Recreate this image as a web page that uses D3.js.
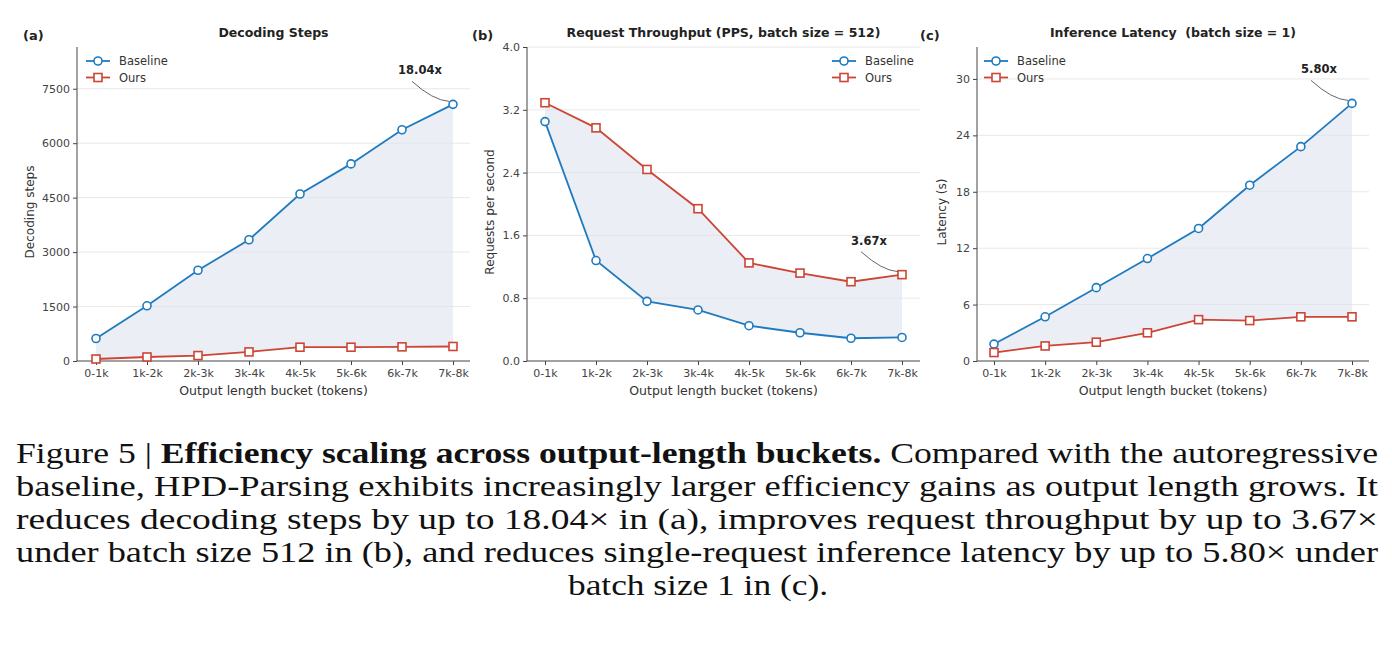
<!DOCTYPE html>
<html><head><meta charset="utf-8">
<script src="https://cdn.jsdelivr.net/npm/d3@7"></script>
<style>body{margin:0;background:#fff}svg{display:block}</style>
</head><body>
<svg id="c" width="1392" height="650"></svg>
<script>
const categories = ["0-1k","1k-2k","2k-3k","3k-4k","4k-5k","5k-6k","6k-7k","7k-8k"];
const stepsBaseline = [620,1520,2500,3340,4600,5430,6370,7070];
const stepsOurs = [55,110,150,250,380,380,390,400];
const thrBaseline = [3.05,1.28,0.76,0.65,0.45,0.36,0.29,0.30];
const thrOurs = [3.29,2.97,2.44,1.94,1.25,1.12,1.01,1.10];
const latBaseline = [1.8,4.7,7.8,10.9,14.1,18.7,22.8,27.4];
const latOurs = [0.9,1.6,2.0,3.0,4.4,4.3,4.7,4.7];
const ticksA = [0,1500,3000,4500,6000,7500];
const ticksB = [0,0.8,1.6,2.4,3.2,4.0];
const ticksC = [0,6,12,18,24,30];

const BLUE="#1f7bbf", RED="#cc4535";
const svg=d3.select("#c");
const F="DejaVu Sans";

const panels=[
 {label:"(a)",lx:23,title:"Decoding Steps",x0:77,x1:470,first:96,last:453,ymax:8650,ticks:ticksA,tf:d=>d,base:stepsBaseline,ours:stepsOurs,ylab:"Decoding steps",ylx:34,legX:86,ann:"18.04x",annOn:"base"},
 {label:"(b)",lx:472,title:"Request Throughput (PPS, batch size = 512)",x0:527,x1:920,first:545,last:902,ymax:4.0,ticks:ticksB,tf:d3.format(".1f"),base:thrBaseline,ours:thrOurs,ylab:"Requests per second",ylx:494,legX:832,ann:"3.67x",annOn:"ours"},
 {label:"(c)",lx:920,title:"Inference Latency\u00a0\u00a0(batch size = 1)",x0:977,x1:1369,first:994,last:1352,ymax:33.4,ticks:ticksC,tf:d=>d,base:latBaseline,ours:latOurs,ylab:"Latency (s)",ylx:946,legX:984,ann:"5.80x",annOn:"base"}
];
const yTop=47,yBot=361;
panels.forEach(p=>{
  const g=svg.append("g");
  const x=d3.scalePoint().domain(categories).range([p.first,p.last]);
  const y=d3.scaleLinear().domain([0,p.ymax]).range([yBot,yTop]);
  g.selectAll(".gr").data(p.ticks.filter(t=>t>0)).join("line")
   .attr("x1",p.x0).attr("x2",p.x1).attr("y1",d=>y(d)).attr("y2",d=>y(d))
   .attr("stroke","#e8e8e8").attr("stroke-width",1);
  const area=d3.area().x((d,i)=>x(categories[i])).y0((d,i)=>y(p.ours[i])).y1(d=>y(d));
  g.append("path").datum(p.base).attr("d",area).attr("fill","#dde3ec").attr("opacity",0.6);
  const ya=g.append("g").attr("transform",`translate(${p.x0},0)`).call(d3.axisLeft(y).tickValues(p.ticks).tickFormat(p.tf).tickSize(4).tickPadding(3));
  const xa=g.append("g").attr("transform",`translate(0,${yBot})`).call(d3.axisBottom(x).tickSize(4).tickPadding(4));
  ya.select(".domain").attr("d",`M0,${yTop}V${yBot}`);
  xa.select(".domain").attr("d",`M${p.x0},0H${p.x1}`);
  [ya,xa].forEach(a=>{a.selectAll("path,line").attr("stroke","#444");a.selectAll("text").attr("font-family",F).attr("font-size",11).attr("fill","#444");});
  const line=d3.line().x((d,i)=>x(categories[i])).y(d=>y(d));
  g.append("path").datum(p.base).attr("d",line).attr("fill","none").attr("stroke",BLUE).attr("stroke-width",1.8);
  g.append("path").datum(p.ours).attr("d",line).attr("fill","none").attr("stroke",RED).attr("stroke-width",1.8);
  g.selectAll(".cb").data(p.base).join("circle").attr("cx",(d,i)=>x(categories[i])).attr("cy",d=>y(d)).attr("r",4).attr("fill","#fff").attr("stroke",BLUE).attr("stroke-width",1.6);
  g.selectAll(".sq").data(p.ours).join("rect").attr("x",(d,i)=>x(categories[i])-4).attr("y",d=>y(d)-4).attr("width",8).attr("height",8).attr("fill","#fff").attr("stroke",RED).attr("stroke-width",1.6);
  g.append("text").attr("x",(p.x0+p.x1)/2).attr("y",37).attr("text-anchor","middle").attr("font-family",F).attr("font-weight","bold").attr("font-size",12.5).attr("fill","#222").text(p.title);
  g.append("text").attr("x",p.lx).attr("y",40).attr("font-family",F).attr("font-weight","bold").attr("font-size",13).attr("fill","#222").text(p.label);
  g.append("text").attr("x",(p.x0+p.x1)/2).attr("y",395).attr("text-anchor","middle").attr("font-family",F).attr("font-size",12.5).attr("fill","#333").text("Output length bucket (tokens)");
  g.append("text").attr("transform",`translate(${p.ylx},${(yTop+yBot)/2+8}) rotate(-90)`).attr("text-anchor","middle").attr("font-family",F).attr("font-size",12).attr("fill","#333").text(p.ylab);
  [["Baseline",BLUE,"c"],["Ours",RED,"s"]].forEach((l,i)=>{
    const ly=61+i*16.5, lx=p.legX;
    g.append("line").attr("x1",lx).attr("x2",lx+24).attr("y1",ly).attr("y2",ly).attr("stroke",l[1]).attr("stroke-width",1.8);
    if(l[2]=="c") g.append("circle").attr("cx",lx+12).attr("cy",ly).attr("r",4).attr("fill","#fff").attr("stroke",l[1]).attr("stroke-width",1.6);
    else g.append("rect").attr("x",lx+8).attr("y",ly-4).attr("width",8).attr("height",8).attr("fill","#fff").attr("stroke",l[1]).attr("stroke-width",1.6);
    g.append("text").attr("x",lx+33).attr("y",ly+4).attr("font-family",F).attr("font-size",11.5).attr("fill","#333").text(l[0]);
  });
  const v=p.annOn=="base"?p.base[7]:p.ours[7];
  const px=x(categories[7]), py=y(v);
  const tx=px-33, ty=py-30;
  g.append("text").attr("x",tx).attr("y",ty).attr("text-anchor","middle").attr("font-family",F).attr("font-weight","bold").attr("font-size",11.5).attr("fill","#222").text(p.ann);
  g.append("path").attr("d",`M${tx-8},${ty+7} Q${px-20},${py-4} ${px-4},${py-3}`).attr("fill","none").attr("stroke","#555").attr("stroke-width",0.9);
});

const capLines=[
 [["Figure 5 | ",false],["Efficiency scaling across output-length buckets.",true],[" Compared with the autoregressive",false]],
 [["baseline, HPD-Parsing exhibits increasingly larger efficiency gains as output length grows. It",false]],
 [["reduces decoding steps by up to 18.04× in (a), improves request throughput by up to 3.67×",false]],
 [["under batch size 512 in (b), and reduces single-request inference latency by up to 5.80× under",false]],
 [["batch size 1 in (c).",false]]
];
capLines.forEach((ln,i)=>{
  const t=svg.append("text").attr("y",463+i*33).attr("font-family","Liberation Serif").attr("font-size",29).attr("fill","#111").attr("lengthAdjust","spacingAndGlyphs");
  if(i<4){t.attr("x",16).attr("textLength",1362);}
  else{t.attr("x",698).attr("text-anchor","middle").attr("textLength",260);}
  ln.forEach(s=>t.append("tspan").attr("font-weight",s[1]?"bold":"normal").text(s[0]));
});
</script>
</body></html>
